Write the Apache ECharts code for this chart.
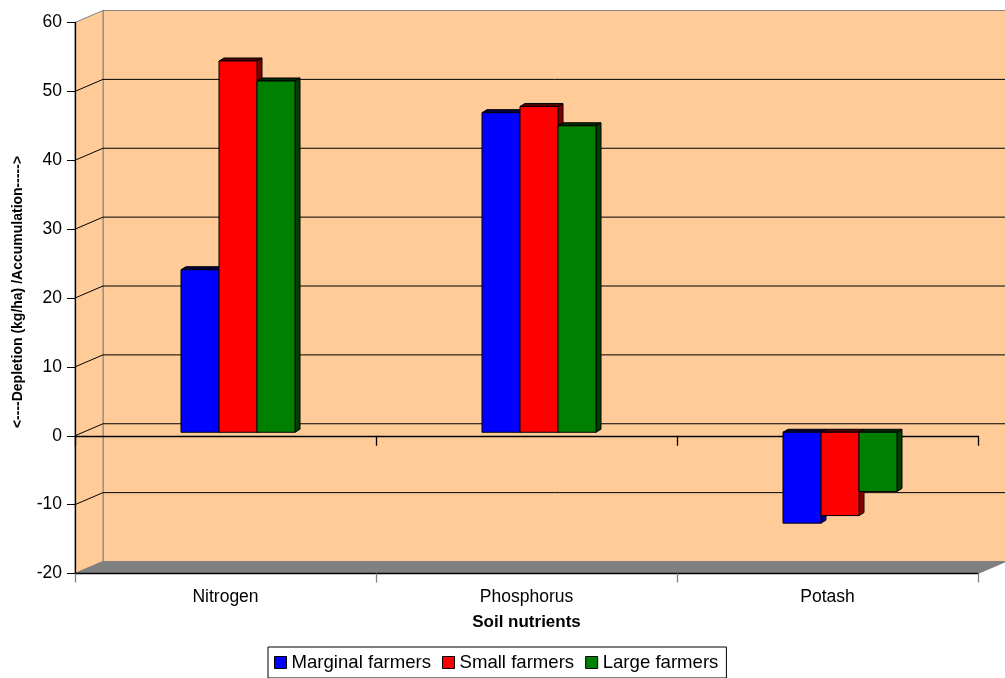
<!DOCTYPE html>
<html>
<head>
<meta charset="utf-8">
<title>Soil nutrient balance</title>
<script src="https://cdn.jsdelivr.net/npm/echarts@6/dist/echarts.min.js"></script>
<style>
  html, body { margin: 0; padding: 0; background: #ffffff; }
  #chart { width: 1005px; height: 678px; }
</style>
</head>
<body>
<div id="chart"></div>
<script>
// Nutrient balance per farmer class (kg/ha); negative = depletion
const categories = ['Nitrogen', 'Phosphorus', 'Potash'];
const seriesNames = ['Marginal farmers', 'Small farmers', 'Large farmers'];
const marginalFarmers = [23.6, 46.4, -13.2];
const smallFarmers = [53.9, 47.3, -12.1];
const largeFarmers = [51.0, 44.5, -8.6];
const yTicks = [-20, -10, 0, 10, 20, 30, 40, 50, 60];

const FONT = '"Liberation Sans", Arial, sans-serif';

// oblique "3D" look: back wall and bars are shifted from the front plane
const WALL_DX = 28, WALL_DY = -12;
const BAR_DX = 12.5, BAR_DY = -3.5;
const BAR_DEPTH_X = 5, BAR_DEPTH_Y = -3;
const BAR_FRACTION = 38 / 301;

const faceColors = ['#0000ff', '#ff0000', '#008000'];
const sideColors = ['#000080', '#800000', '#004000'];
const topColors = ['#000040', '#500000', '#002800'];
const WALL_COLOR = '#ffcc99';
const FLOOR_COLOR = '#808080';

const seriesValues = [marginalFarmers, smallFarmers, largeFarmers];

function renderWalls(params, api) {
  const yMin = yTicks[0];
  const yMax = yTicks[yTicks.length - 1];
  const catW = api.size([1, 0])[0];
  const left = api.coord([0, yMin])[0] - catW / 2;
  const right = api.coord([categories.length - 1, yMin])[0] + catW / 2;
  const yBottom = api.coord([0, yMin])[1];
  const yTop = api.coord([0, yMax])[1];
  const children = [];

  // back wall
  children.push({
    type: 'rect',
    shape: { x: left + WALL_DX, y: yTop + WALL_DY, width: right - left, height: yBottom - yTop },
    style: { fill: WALL_COLOR, stroke: '#808080', lineWidth: 1 }
  });
  // left side wall
  children.push({
    type: 'polygon',
    shape: { points: [[left, yTop], [left + WALL_DX, yTop + WALL_DY], [left + WALL_DX, yBottom + WALL_DY], [left, yBottom]] },
    style: { fill: WALL_COLOR, stroke: '#808080', lineWidth: 1 }
  });
  // gridlines on the back wall and the side wall
  yTicks.slice(1, -1).forEach(function (v) {
    const yf = api.coord([0, v])[1];
    const yb = yf + WALL_DY;
    children.push({
      type: 'line',
      shape: { x1: left + WALL_DX, y1: yb, x2: right + WALL_DX, y2: yb },
      style: { stroke: '#000000', lineWidth: 1 }
    });
    children.push({
      type: 'line',
      shape: { x1: left, y1: yf, x2: left + WALL_DX, y2: yb },
      style: { stroke: '#000000', lineWidth: 1 }
    });
  });
  // floor
  children.push({
    type: 'polygon',
    shape: { points: [[left, yBottom], [left + WALL_DX, yBottom + WALL_DY], [right + WALL_DX, yBottom + WALL_DY], [right, yBottom]] },
    style: { fill: FLOOR_COLOR, stroke: '#808080', lineWidth: 1 }
  });
  return { type: 'group', children: children };
}

function makeBarRenderer(s) {
  return function (params, api) {
    const cat = api.value(0);
    const val = api.value(1);
    const base = api.coord([cat, 0]);
    const tip = api.coord([cat, val]);
    const bw = api.size([1, 0])[0] * BAR_FRACTION;
    const x0 = base[0] + BAR_DX - 1.5 * bw + s * bw;
    const yTop = Math.min(base[1], tip[1]) + BAR_DY;
    const yBot = Math.max(base[1], tip[1]) + BAR_DY;
    const edge = { stroke: '#000000', lineWidth: 1, lineJoin: 'miter' };
    return {
      type: 'group',
      children: [
        {
          type: 'polygon',
          shape: { points: [[x0 + bw, yTop], [x0 + bw + BAR_DEPTH_X, yTop + BAR_DEPTH_Y], [x0 + bw + BAR_DEPTH_X, yBot + BAR_DEPTH_Y], [x0 + bw, yBot]] },
          style: Object.assign({ fill: sideColors[s] }, edge)
        },
        {
          type: 'polygon',
          shape: { points: [[x0, yTop], [x0 + BAR_DEPTH_X, yTop + BAR_DEPTH_Y], [x0 + bw + BAR_DEPTH_X, yTop + BAR_DEPTH_Y], [x0 + bw, yTop]] },
          style: Object.assign({ fill: topColors[s] }, edge)
        },
        {
          type: 'rect',
          shape: { x: x0, y: yTop, width: bw, height: yBot - yTop },
          style: Object.assign({ fill: faceColors[s] }, edge)
        }
      ]
    };
  };
}

const chart = echarts.init(document.getElementById('chart'), null, { renderer: 'canvas' });

const series = [{
  type: 'custom',
  name: 'walls',
  silent: true,
  z: 1,
  clip: false,
  data: [[0, 0]],
  renderItem: renderWalls
}];

seriesNames.forEach(function (name, s) {
  series.push({
    type: 'custom',
    name: name,
    z: 5,
    clip: false,
    itemStyle: { color: faceColors[s], borderColor: '#000', borderWidth: 1 },
    encode: { x: 0, y: 1 },
    data: categories.map(function (c, i) { return [i, seriesValues[s][i]]; }),
    renderItem: makeBarRenderer(s)
  });
});

chart.setOption({
  animation: false,
  backgroundColor: '#ffffff',
  textStyle: { fontFamily: FONT },
  grid: { left: 75, top: 22.5, width: 903, height: 551 },
  legend: {
    data: seriesNames,
    selectedMode: false,
    left: 268,
    top: 647,
    icon: 'rect',
    itemWidth: 12,
    itemHeight: 12,
    itemGap: 11,
    padding: [6, 8, 6, 6],
    borderColor: '#000',
    borderWidth: 1,
    itemStyle: { borderColor: '#000', borderWidth: 1 },
    textStyle: { fontFamily: FONT, fontSize: 18.6, color: '#000', lineHeight: 18 }
  },
  xAxis: [
    {
      type: 'category',
      data: categories,
      position: 'bottom',
      z: 3,
      axisLine: { onZero: false, lineStyle: { color: '#000', width: 1.3 } },
      axisTick: { show: true, alignWithLabel: false, interval: 0, length: 9, lineStyle: { color: '#808080', width: 1.3 } },
      axisLabel: { fontFamily: FONT, fontSize: 17.5, color: '#000', margin: 15 },
      name: 'Soil nutrients',
      nameLocation: 'middle',
      nameGap: 40,
      nameTextStyle: { fontFamily: FONT, fontWeight: 'bold', fontSize: 17, color: '#000' },
      splitLine: { show: false }
    },
    {
      type: 'category',
      data: categories,
      position: 'bottom',
      z: 3,
      axisLine: { onZero: true, lineStyle: { color: '#000', width: 1.3 } },
      axisTick: { show: true, alignWithLabel: false, interval: 0, length: 10, lineStyle: { color: '#000', width: 1.3 } },
      axisLabel: { show: false },
      splitLine: { show: false }
    }
  ],
  yAxis: {
    type: 'value',
    min: yTicks[0],
    max: yTicks[yTicks.length - 1],
    interval: 10,
    z: 3,
    axisLine: { show: true, lineStyle: { color: '#000', width: 1.3 } },
    axisTick: { show: true, length: 8, lineStyle: { color: '#000' } },
    axisLabel: { fontFamily: FONT, fontSize: 17.5, color: '#000', margin: 13 },
    splitLine: { show: false },
    name: '<----Depletion (kg/ha) /Accumulation----->',
    nameLocation: 'middle',
    nameGap: 50,
    nameTextStyle: { fontFamily: FONT, fontWeight: 'bold', fontSize: 14, color: '#000', padding: [0, 0, 0, 12] }
  },
  series: series
});
</script>
</body>
</html>
